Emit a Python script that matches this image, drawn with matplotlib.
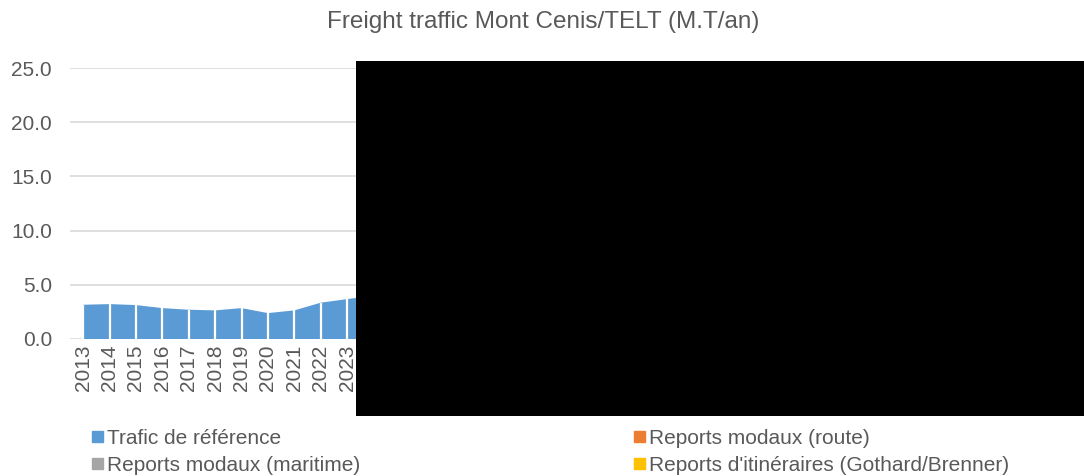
import matplotlib
matplotlib.use('Agg')
from matplotlib import pyplot as plt
from matplotlib.patches import Rectangle, Patch

plt.rcParams['font.family'] = ['Liberation Sans', 'DejaVu Sans']

# years on the category axis (2024+ hidden under the black block)
years = [str(y) for y in range(2013, 2051)]
# values readable in the picture (M.T/an)
trafic_ref = [3.16, 3.22, 3.13, 2.85, 2.70, 2.64, 2.85, 2.39, 2.64, 3.35, 3.68, 4.0]
reports_route = [0.0] * len(trafic_ref)
reports_maritime = [0.0] * len(trafic_ref)
reports_itin = [0.0] * len(trafic_ref)

colors = ['#5b9bd5', '#ed7d31', '#a5a5a5', '#ffc000']
names = ['Trafic de référence', 'Reports modaux (route)',
         'Reports modaux (maritime)', "Reports d'itinéraires (Gothard/Brenner)"]
grey = '#595959'

fig = plt.figure(dpi=100, figsize=(10.84, 4.76))
ax = fig.add_axes([70 / 1084, 1 - 339 / 476, 1003 / 1084, 271 / 476])

x = list(range(len(trafic_ref)))
ax.stackplot(x, trafic_ref, reports_route, reports_maritime, reports_itin,
             colors=colors, linewidth=0)
ax.vlines(x, 0, trafic_ref, color='white', lw=1.6)

ax.set_xlim(-0.5, len(years) - 0.5)
ax.set_ylim(0, 25)
ax.set_yticks([0, 5, 10, 15, 20, 25])
ax.set_yticklabels(['%.1f' % v for v in [0, 5, 10, 15, 20, 25]])
ax.set_xticks(range(len(years)))
ax.set_xticklabels(years, rotation=90)
ax.tick_params(axis='both', length=0, labelsize=15, colors=grey)
ax.tick_params(axis='y', pad=13)
ax.tick_params(axis='x', pad=4)
ax.grid(axis='y', color='#d9d9d9', lw=1.2)
ax.set_axisbelow(True)
for s in ax.spines.values():
    s.set_visible(False)

fig.text(543 / 1084, 1 - 28 / 476, 'Freight traffic Mont Cenis/TELT (M.T/an)',
         ha='center', va='baseline', fontsize=17.5, color=grey)

handles = [Patch(color=colors[i]) for i in range(4)]
order = [0, 2, 1, 3]
fig.legend([handles[i] for i in order], [names[i] for i in order], ncol=2,
           loc='lower left', bbox_to_anchor=(77 / 1084, -0.028), frameon=False,
           fontsize=15, labelcolor=grey, handlelength=0.53, handleheight=0.48,
           handletextpad=0.2, columnspacing=13.15, labelspacing=0.38,
           borderpad=0.2)

# redacted block covering the right part of the chart
fig.patches.append(Rectangle((356 / 1084, 1 - 416 / 476), 728 / 1084, 355 / 476,
                             transform=fig.transFigure, facecolor='black',
                             edgecolor='none', zorder=10))

fig.savefig('out.png', dpi=100)
